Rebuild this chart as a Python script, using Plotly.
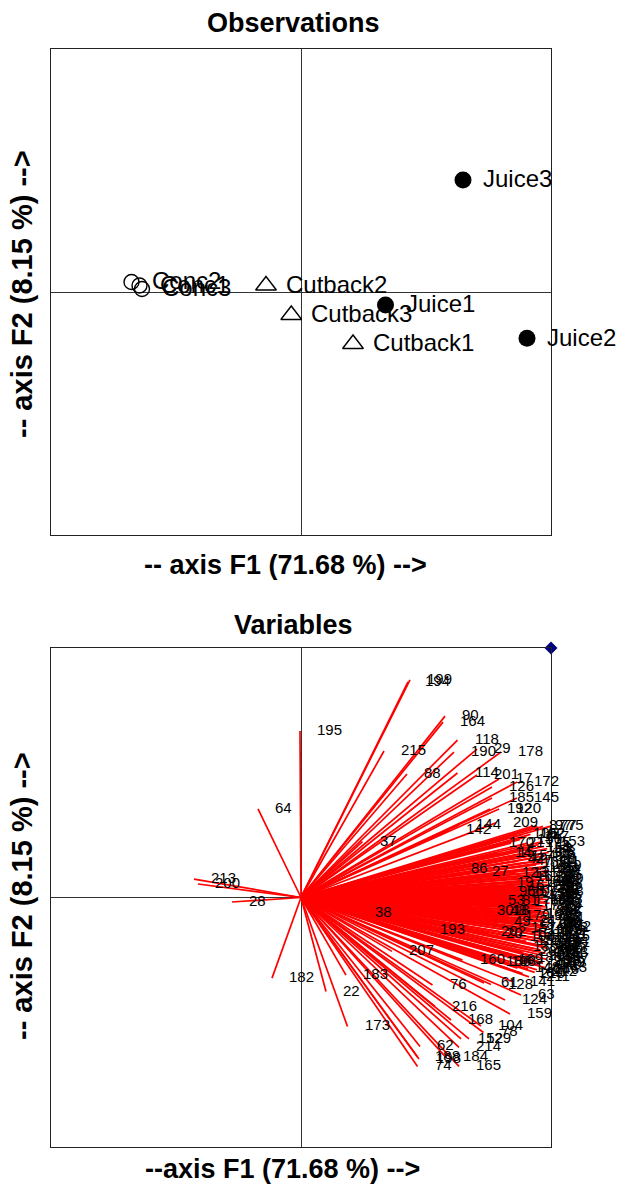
import plotly.graph_objects as go

W, H = 617, 1184

# ---------------- Observations (F1/F2 scores) ----------------
obs_labels = ["Conc2", "Conc1", "Conc3", "Cutback2", "Cutback3", "Cutback1", "Juice1", "Juice3", "Juice2"]
obs_group = ["Conc", "Conc", "Conc", "Cutback", "Cutback", "Cutback", "Juice", "Juice", "Juice"]
obs_f1 = [-6.78, -6.46, -6.36, -1.40, -0.39, 2.08, 3.38, 6.48, 9.04]
obs_f2 = [0.40, 0.26, 0.12, 0.26, -0.92, -2.08, -0.52, 4.48, -1.85]

# ---------------- Variables (correlations with F1/F2) ----------------
var_labels = [
    "199", "194", "195", "90", "164", "118", "215", "190", "29", "178",
    "88", "114", "201", "17", "172", "126", "185", "145", "192", "120",
    "209", "142", "144", "37", "64", "213", "200", "28", "182", "22",
    "173", "183", "38", "207", "193", "160", "76", "216", "168", "104",
    "78", "152", "129", "214", "62", "188", "198", "74", "184", "165",
    "61", "128", "141", "124", "63", "159", "186", "108", "169", "148",
    "189", "86", "27", "123", "131", "197", "30", "48", "49", "53",
    "81", "202", "20", "87", "97", "77", "75", "106", "162", "92",
    "153", "170", "21", "175", "14", "15", "42", "47", "113", "96",
    "56", "107", "57", "174", "13", "18", "24", "157", "158", "156",
    "135", "40", "180", "26", "149",
    "1", "2", "3", "4", "5", "6", "7", "8", "9", "10",
    "11", "12", "16", "19", "23", "25", "31", "32", "33", "34",
    "35", "36", "39", "41", "43", "44", "45", "46", "50", "51",
    "52", "54", "55", "58", "59", "60", "65", "66", "67", "68",
    "69", "70", "71", "72", "73", "79", "80", "82", "83", "84",
    "85", "89", "91", "93", "94", "95", "98", "99", "100", "101",
    "102", "103", "105", "109", "110", "111", "112", "115", "116", "117",
    "119", "121", "122", "125", "127", "130", "132", "133", "134", "136",
    "137", "138", "139", "140", "143", "146", "147", "150", "151", "154",
    "155", "161", "163", "166", "167", "171", "176", "177", "179", "181",
    "187", "191", "196", "203", "204", "205", "206", "208", "210", "211",
    "212",
]
var_f1 = [
    0.436, 0.428, -0.004, 0.576, 0.568, 0.626, 0.332, 0.612, 0.704, 0.800,
    0.424, 0.626, 0.704, 0.792, 0.864, 0.764, 0.764, 0.864, 0.756, 0.792,
    0.780, 0.592, 0.632, 0.246, -0.172, -0.428, -0.412, -0.276, -0.116, 0.100,
    0.186, 0.180, 0.228, 0.364, 0.486, 0.646, 0.526, 0.536, 0.600, 0.720,
    0.730, 0.640, 0.672, 0.632, 0.476, 0.466, 0.472, 0.466, 0.580, 0.632,
    0.732, 0.760, 0.846, 0.816, 0.880, 0.836, 0.752, 0.772, 0.800, 0.866,
    0.878, 0.612, 0.696, 0.816, 0.860, 0.796, 0.716, 0.766, 0.782, 0.760,
    0.814, 0.732, 0.752, 0.924, 0.946, 0.968, 0.996, 0.860, 0.886, 0.918,
    0.968, 0.764, 0.840, 0.906, 0.786, 0.798, 0.840, 0.870, 0.934, 0.802,
    0.834, 0.858, 0.884, 0.926, 0.926, 0.778, 0.884, 0.852, 0.868, 0.876,
    0.860, 0.966, 0.874, 0.938, 0.966,
    0.951, 0.972, 0.985, 0.944, 0.991, 0.962, 0.978, 0.948, 0.995, 0.969,
    0.983, 0.957, 0.940, 0.989, 0.975, 0.961, 0.993, 0.946, 0.980, 0.966,
    0.987, 0.953, 0.995, 0.971, 0.942, 0.984, 0.960, 0.992, 0.976, 0.949,
    0.988, 0.965, 0.981, 0.994, 0.955, 0.973, 0.986, 0.944, 0.968, 0.990,
    0.958, 0.979, 0.995, 0.947, 0.970, 0.985, 0.962, 0.992, 0.951, 0.977,
    0.988, 0.966, 0.943, 0.983, 0.994, 0.959, 0.974, 0.987, 0.950, 0.969,
    0.991, 0.980, 0.956, 0.972, 0.945, 0.986, 0.964, 0.993, 0.953, 0.976,
    0.961, 0.989, 0.948, 0.971, 0.984, 0.958, 0.942, 0.978, 0.965, 0.952,
    0.982, 0.947, 0.968, 0.955, 0.975, 0.944, 0.902, 0.875, 0.913, 0.851,
    0.896, 0.923, 0.870, 0.905, 0.838, 0.918, 0.862, 0.897, 0.826, 0.910,
    0.878, 0.918, 0.846, 0.901, 0.931, 0.889, 0.921, 0.908, 0.887, 0.912,
    0.935,
]
var_f2 = [
    0.872, 0.864, 0.667, 0.727, 0.703, 0.631, 0.587, 0.583, 0.595, 0.583,
    0.495, 0.499, 0.491, 0.475, 0.463, 0.443, 0.399, 0.399, 0.355, 0.355,
    0.299, 0.271, 0.291, 0.224, 0.355, 0.074, 0.054, -0.018, -0.323, -0.377,
    -0.517, -0.311, -0.062, -0.216, -0.130, -0.251, -0.351, -0.437, -0.491, -0.515,
    -0.541, -0.567, -0.567, -0.601, -0.597, -0.639, -0.647, -0.677, -0.641, -0.677,
    -0.343, -0.349, -0.337, -0.411, -0.391, -0.467, -0.257, -0.257, -0.251, -0.283,
    -0.303, 0.114, 0.104, 0.098, 0.098, 0.058, -0.056, -0.056, -0.100, -0.016,
    -0.016, -0.138, -0.146, 0.285, 0.285, 0.285, 0.285, 0.253, 0.253, 0.253,
    0.224, 0.218, 0.218, 0.218, 0.178, 0.178, 0.156, 0.146, 0.178, 0.024,
    0.024, 0.024, 0.024, 0.038, -0.008, -0.056, -0.096, -0.124, -0.150, -0.174,
    -0.198, -0.196, -0.244, -0.257, -0.261,
    0.212, 0.205, 0.196, 0.188, 0.181, 0.176, 0.168, 0.161, 0.155, 0.149,
    0.142, 0.137, 0.131, 0.126, 0.120, 0.114, 0.108, 0.103, 0.098, 0.092,
    0.087, 0.081, 0.076, 0.071, 0.066, 0.061, 0.056, 0.051, 0.046, 0.041,
    0.036, 0.031, 0.026, 0.021, 0.016, 0.011, 0.006, 0.002, -0.003, -0.008,
    -0.013, -0.018, -0.023, -0.028, -0.033, -0.038, -0.043, -0.048, -0.053, -0.058,
    -0.064, -0.069, -0.074, -0.079, -0.085, -0.090, -0.096, -0.101, -0.107, -0.112,
    -0.118, -0.123, -0.129, -0.135, -0.140, -0.146, -0.152, -0.158, -0.164, -0.170,
    -0.177, -0.183, -0.190, -0.196, -0.203, -0.210, -0.217, -0.224, -0.232, -0.240,
    -0.248, -0.256, -0.264, -0.272, -0.281, -0.290, 0.243, 0.232, 0.198, 0.168,
    0.140, 0.118, 0.084, 0.063, 0.047, 0.012, -0.020, -0.036, -0.076, -0.066,
    -0.110, -0.130, -0.158, -0.176, -0.205, -0.220, -0.236, -0.287, -0.305, -0.318,
    -0.300,
]

# ---------------- Layout geometry (pixels) ----------------
BOX_L, BOX_R = 51, 551
TOP_T, TOP_B = 49, 535
BOT_T, BOT_B = 648, 1147


def px_x(p):
    return p / W


def px_y(p):
    return 1 - p / H


SANS = "Liberation Sans, Arial, Helvetica, sans-serif"

fig = go.Figure()

# Observations markers
group_style = {
    "Conc": dict(symbol="circle-open", size=15, color="black", line=dict(width=1.4, color="black")),
    "Cutback": dict(symbol="triangle-up-open", size=18, color="black", line=dict(width=1.4, color="black")),
    "Juice": dict(symbol="circle", size=17, color="black", line=dict(width=0, color="black")),
}
for g in ["Conc", "Cutback", "Juice"]:
    idx = [i for i, gg in enumerate(obs_group) if gg == g]
    fig.add_trace(go.Scatter(
        x=[obs_f1[i] for i in idx], y=[obs_f2[i] for i in idx],
        mode="markers", marker=group_style[g], xaxis="x", yaxis="y",
        showlegend=False, hoverinfo="skip", cliponaxis=False,
    ))

annotations = []
for lab, xv, yv in zip(obs_labels, obs_f1, obs_f2):
    annotations.append(dict(
        x=xv, y=yv, xref="x", yref="y", text=lab, showarrow=False,
        xanchor="left", yanchor="middle", xshift=18, yshift=1,
        font=dict(family=SANS, size=24, color="black"),
    ))

# Variables: vectors from origin
lx, ly = [], []
for xv, yv in zip(var_f1, var_f2):
    lx += [0, xv, None]
    ly += [0, yv, None]
fig.add_trace(go.Scatter(
    x=lx, y=ly, mode="lines", line=dict(color="#ff0000", width=1.7),
    xaxis="x2", yaxis="y2", showlegend=False, hoverinfo="skip",
))
for lab, xv, yv in zip(var_labels, var_f1, var_f2):
    annotations.append(dict(
        x=xv, y=yv, xref="x2", yref="y2", text=lab, showarrow=False,
        xanchor="left", yanchor="middle", xshift=15, yshift=1.5,
        font=dict(family=SANS, size=15, color="black"),
    ))

# corner marker
fig.add_trace(go.Scatter(
    x=[1], y=[1], mode="markers",
    marker=dict(symbol="diamond", size=10, color="#00007f"),
    xaxis="x2", yaxis="y2", showlegend=False, hoverinfo="skip", cliponaxis=False,
))


def title(text, xc, yc, size=27, angle=0):
    return dict(
        x=px_x(xc), y=px_y(yc), xref="paper", yref="paper", text="<b>" + text + "</b>",
        showarrow=False, xanchor="center", yanchor="middle", textangle=angle,
        font=dict(family=SANS, size=size, color="black"),
    )


annotations += [
    title("Observations", 293, 23),
    title("-- axis F1 (71.68 %) -->", 285, 565),
    title("-- axis F2 (8.15 %) -->", 22, 294, size=29, angle=-90),
    title("Variables", 293, 625),
    title("--axis F1 (71.68 %) -->", 282, 1169),
    title("-- axis F2 (8.15 %) -->", 22, 896, size=29, angle=-90),
]

ax_common = dict(
    showgrid=False, showticklabels=False, ticks="", zeroline=True,
    zerolinecolor="#333333", zerolinewidth=1.2,
    showline=True, mirror=True, linecolor="#222222", linewidth=1.2,
)

obs_xr = [-10, 10]
obs_yr = [-9.72, 9.72]

fig.update_layout(
    width=W, height=H,
    margin=dict(l=0, r=0, t=0, b=0),
    paper_bgcolor="white", plot_bgcolor="white",
    xaxis=dict(domain=[px_x(BOX_L), px_x(BOX_R)], range=obs_xr, anchor="y", **ax_common),
    yaxis=dict(domain=[px_y(TOP_B), px_y(TOP_T)], range=obs_yr, anchor="x", **ax_common),
    xaxis2=dict(domain=[px_x(BOX_L), px_x(BOX_R)], range=[-1, 1], anchor="y2", **ax_common),
    yaxis2=dict(domain=[px_y(BOT_B), px_y(BOT_T)], range=[-1, 1], anchor="x2", **ax_common),
    annotations=annotations,
    showlegend=False,
)

fig.write_html(
    "out.html",
    config={"displayModeBar": False},
    post_script="document.body.style.margin='0px';",
)
